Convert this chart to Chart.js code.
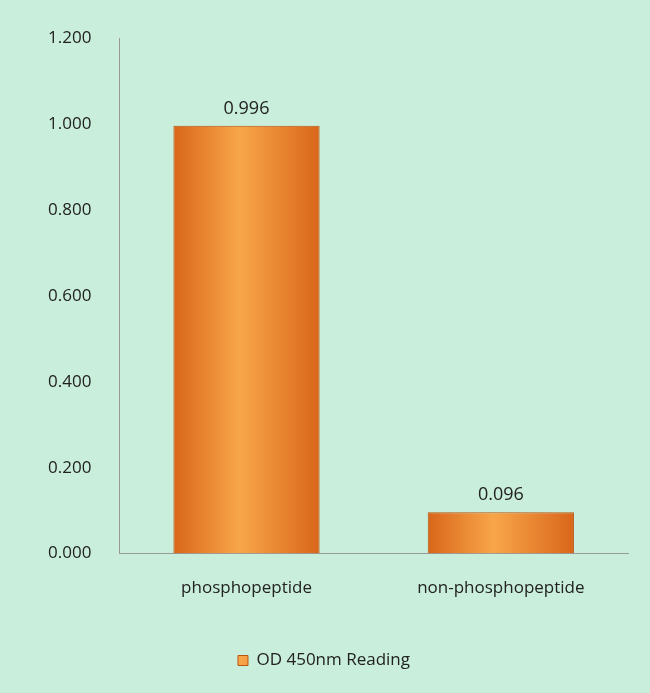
<!DOCTYPE html>
<html><head><meta charset="utf-8">
<script src="https://cdn.jsdelivr.net/npm/chart.js@4/dist/chart.umd.min.js"></script>
<style>html,body{margin:0;padding:0;background:#c9eedb;}#w{width:650px;height:693px;}</style>
</head><body><div id="w"><canvas id="c"></canvas></div>
<script>
const categories = ["phosphopeptide", "non-phosphopeptide"];
const values = [0.996, 0.096];
const seriesName = "OD 450nm Reading";
const yTicks = [0, 0.2, 0.4, 0.6, 0.8, 1.0, 1.2];

function grad(context){
  const ch = context.chart, xs = ch.scales.x;
  if (!xs || context.dataIndex === undefined) return '#ee8a2c';
  const cx = xs.getPixelForValue(context.dataIndex);
  const w = (xs.width / categories.length) * 0.575;
  if (!isFinite(cx) || !isFinite(w) || w <= 0) return '#ee8a2c';
  const g = ch.ctx.createLinearGradient(cx - w/2, 0, cx + w/2, 0);
  g.addColorStop(0, '#d9661a'); g.addColorStop(0.45, '#f8a64a'); g.addColorStop(1, '#d9661a');
  return g;
}
const labelPlugin = {
  id:'lbl',
  afterDatasetsDraw(chart){
    const ctx = chart.ctx, meta = chart.getDatasetMeta(0);
    ctx.save(); ctx.font = '18px "Open Sans", sans-serif'; ctx.fillStyle = '#222';
    ctx.textAlign = 'center'; ctx.textBaseline = 'bottom';
    meta.data.forEach((b,i)=>ctx.fillText(values[i].toFixed(3), b.x, b.y - 8));
    ctx.restore();
  }
};
new Chart(document.getElementById('c'), {
  type:'bar',
  data:{labels:categories, datasets:[{label:seriesName, data:values, backgroundColor:grad,
    borderColor:'#b9560f', borderWidth:1, categoryPercentage:1, barPercentage:0.575}]},
  options:{
    responsive:true, maintainAspectRatio:false, animation:false,
    layout:{padding:{left:20, right:22, top:22, bottom:14}},
    plugins:{
      legend:{position:'bottom', labels:{boxWidth:10, boxHeight:10, color:'#222', padding:30,
        font:{size:17, family:'"Open Sans", sans-serif'}}},
      tooltip:{enabled:false}
    },
    scales:{
      x:{grid:{display:false, drawTicks:false}, border:{display:true, color:'#999'},
        ticks:{color:'#222', padding:24, font:{size:17, family:'"Open Sans", sans-serif'}}},
      y:{min:0, max:1.2, afterBuildTicks(a){a.ticks = yTicks.map(v=>({value:v}));},
        grid:{display:false, drawTicks:false}, border:{display:true, color:'#999'},
        ticks:{color:'#222', padding:28, callback:v=>Number(v).toFixed(3),
          font:{size:17, family:'"Open Sans", sans-serif'}}}
    }
  },
  plugins:[labelPlugin]
});
</script></body></html>
